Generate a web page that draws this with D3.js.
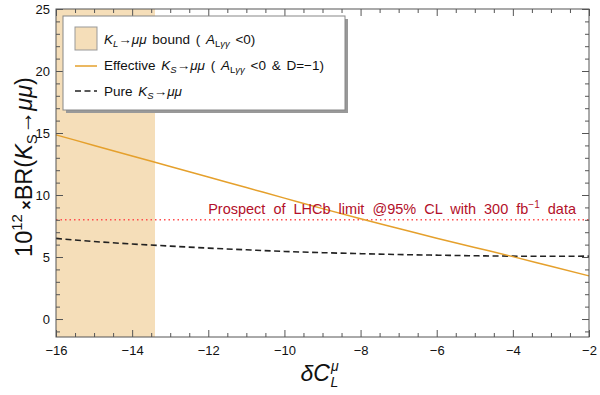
<!DOCTYPE html>
<meta charset="utf-8">
<html>
<head>
<script src="https://d3js.org/d3.v7.min.js"></script>
<style>
  body { margin: 0; background: #fff; }
  text { font-family: "Liberation Sans", Arial, sans-serif; }
</style>
</head>
<body>
<script>
// data
var deltaC = [-16, -15, -14, -13, -12, -11, -10, -9, -8, -7, -6, -5, -4, -3, -2];
var effectiveBR = [14.85, 14.0, 13.15, 12.3, 11.45, 10.6, 9.75, 8.9, 8.08, 7.3, 6.52, 5.77, 5.03, 4.25, 3.48];
var pureBR = [6.5, 6.25, 6.05, 5.88, 5.72, 5.58, 5.45, 5.35, 5.27, 5.2, 5.15, 5.1, 5.07, 5.06, 5.07];
var boundRange = [-16, -13.4];
var lhcbLimit = 8;
var xTicks = [-16, -14, -12, -10, -8, -6, -4, -2];
var yTicks = [0, 5, 10, 15, 20, 25];

var width = 600, height = 395;
var margin = {top: 9, right: 11, bottom: 58, left: 56};

var svg = d3.select("body").append("svg")
  .attr("width", width)
  .attr("height", height);

var x = d3.scaleLinear().domain([-16, -2]).range([margin.left, width - margin.right]);
var y = d3.scaleLinear().domain([-1.45, 25]).range([height - margin.bottom, margin.top]);

// shaded KL bound
svg.append("rect")
  .attr("x", x(boundRange[0]))
  .attr("y", y(25))
  .attr("width", x(boundRange[1]) - x(boundRange[0]))
  .attr("height", y(-1.45) - y(25))
  .attr("fill", "#f5deb9");

// LHCb prospect line
svg.append("line")
  .attr("x1", x(-16)).attr("x2", x(-2))
  .attr("y1", y(lhcbLimit)).attr("y2", y(lhcbLimit))
  .attr("stroke", "#ff4d4d")
  .attr("stroke-width", 1.6)
  .attr("stroke-dasharray", "1.5,3");

var line = d3.line()
  .x(function(d, i) { return x(deltaC[i]); })
  .y(function(d) { return y(d); })
  .curve(d3.curveMonotoneX);

svg.append("path")
  .datum(pureBR)
  .attr("d", line)
  .attr("fill", "none")
  .attr("stroke", "#222")
  .attr("stroke-width", 1.6)
  .attr("stroke-dasharray", "6,3.5");

svg.append("path")
  .datum(effectiveBR)
  .attr("d", line)
  .attr("fill", "none")
  .attr("stroke", "#e5a02c")
  .attr("stroke-width", 1.5);

svg.append("text")
  .attr("x", 576)
  .attr("y", y(lhcbLimit) - 6)
  .attr("text-anchor", "end")
  .attr("font-size", 14.5)
  .attr("fill", "#b3102a")
  .attr("word-spacing", 4)
  .html('Prospect of LHCb limit @95% CL with 300 fb<tspan dy="-6" font-size="10">\u22121</tspan><tspan dy="6"> data</tspan>');

// frame and ticks
var frameColor = "#555";
svg.append("rect")
  .attr("x", x(-16)).attr("y", y(25))
  .attr("width", x(-2) - x(-16))
  .attr("height", y(-1.45) - y(25))
  .attr("fill", "none")
  .attr("stroke", frameColor)
  .attr("stroke-width", 1);

var xAxisB = d3.axisBottom(x).tickValues(xTicks).tickSizeInner(-7).tickSizeOuter(0)
  .tickFormat(function(d) { return d < 0 ? "\u2212" + Math.abs(d) : d; }).tickPadding(9);
svg.append("g").attr("transform", "translate(0," + y(-1.45) + ")").call(xAxisB);
svg.append("g").attr("transform", "translate(0," + y(25) + ")")
  .call(d3.axisTop(x).tickValues(xTicks).tickSizeInner(-7).tickSizeOuter(0).tickFormat(""));
var yAxisL = d3.axisLeft(y).tickValues(yTicks).tickSizeInner(-7).tickSizeOuter(0).tickPadding(6);
svg.append("g").attr("transform", "translate(" + x(-16) + ",0)").call(yAxisL);
svg.append("g").attr("transform", "translate(" + x(-2) + ",0)")
  .call(d3.axisRight(y).tickValues(yTicks).tickSizeInner(-7).tickSizeOuter(0).tickFormat(""));

var xMinor = d3.range(-16, -1.9, 0.5).filter(function(v) { return xTicks.indexOf(v) < 0; });
var yMinor = d3.range(-1, 25, 1).filter(function(v) { return yTicks.indexOf(v) < 0; });
svg.append("g").attr("transform", "translate(0," + y(-1.45) + ")")
  .call(d3.axisBottom(x).tickValues(xMinor).tickSizeInner(-4).tickSizeOuter(0).tickFormat(""));
svg.append("g").attr("transform", "translate(0," + y(25) + ")")
  .call(d3.axisTop(x).tickValues(xMinor).tickSizeInner(-4).tickSizeOuter(0).tickFormat(""));
svg.append("g").attr("transform", "translate(" + x(-16) + ",0)")
  .call(d3.axisLeft(y).tickValues(yMinor).tickSizeInner(-4).tickSizeOuter(0).tickFormat(""));
svg.append("g").attr("transform", "translate(" + x(-2) + ",0)")
  .call(d3.axisRight(y).tickValues(yMinor).tickSizeInner(-4).tickSizeOuter(0).tickFormat(""));

svg.selectAll(".domain").remove();
svg.selectAll(".tick line").attr("stroke", frameColor);
svg.selectAll(".tick text")
  .attr("font-size", 13)
  .attr("fill", "#111")
  .style("font-family", "Liberation Sans, Arial, sans-serif");

// axis titles
svg.append("text")
  .attr("transform", "translate(32," + ((y(25) + y(-1.45)) / 2 - 6) + ") rotate(-90)")
  .attr("text-anchor", "middle")
  .attr("font-size", 23.5)
  .attr("fill", "#111")
  .html('10<tspan dy="-10" font-size="15">12</tspan><tspan dy="10" font-weight="bold" font-size="16"> \u00d7</tspan><tspan>BR(</tspan><tspan font-style="italic">K</tspan><tspan dy="5" font-size="15">S</tspan><tspan dy="-5">\u2192</tspan><tspan font-style="italic">\u03bc\u03bc</tspan>)');

svg.append("text")
  .attr("x", (x(-16) + x(-2)) / 2 - 22)
  .attr("y", 381)
  .attr("font-size", 23)
  .attr("fill", "#111")
  .html('<tspan font-style="italic">\u03b4C</tspan><tspan dy="-10" dx="1" font-size="14" font-style="italic">\u03bc</tspan><tspan dy="16" dx="-8" font-size="14" font-style="italic">L</tspan>');

// legend
var lg = svg.append("g");
lg.append("rect").attr("x", 66).attr("y", 19).attr("width", 282).attr("height", 94).attr("fill", "#999");
lg.append("rect").attr("x", 63).attr("y", 16).attr("width", 282).attr("height", 94)
  .attr("fill", "#fff").attr("stroke", "#888").attr("stroke-width", 1);
lg.append("rect").attr("x", 75).attr("y", 27).attr("width", 22).attr("height", 23)
  .attr("fill", "#f5deb9").attr("stroke", "#999");
lg.append("line").attr("x1", 75).attr("x2", 97).attr("y1", 66).attr("y2", 66)
  .attr("stroke", "#e5a02c").attr("stroke-width", 1.5);
lg.append("line").attr("x1", 75).attr("x2", 97).attr("y1", 91).attr("y2", 91)
  .attr("stroke", "#222").attr("stroke-width", 1.6).attr("stroke-dasharray", "6,3.5");

var legendFont = 13.5;
lg.append("text").attr("x", 104).attr("y", 44).attr("font-size", legendFont).attr("fill", "#111").attr("word-spacing", 2)
  .html('<tspan font-style="italic">K</tspan><tspan dy="3" font-size="9.5" font-style="italic">L</tspan><tspan dy="-3">\u2192</tspan><tspan font-style="italic">\u03bc\u03bc</tspan>  bound ( <tspan font-style="italic">A</tspan><tspan dy="3" font-size="9.5">L</tspan><tspan font-size="9.5" font-style="italic">\u03b3\u03b3</tspan><tspan dy="-3"> &lt;0)</tspan>');
lg.append("text").attr("x", 104).attr("y", 70).attr("font-size", legendFont).attr("fill", "#111").attr("word-spacing", 2)
  .html('Effective <tspan font-style="italic">K</tspan><tspan dy="3" font-size="9.5" font-style="italic">S</tspan><tspan dy="-3">\u2192</tspan><tspan font-style="italic">\u03bc\u03bc</tspan> ( <tspan font-style="italic">A</tspan><tspan dy="3" font-size="9.5">L</tspan><tspan font-size="9.5" font-style="italic">\u03b3\u03b3</tspan><tspan dy="-3"> &lt;0 &amp; D=\u22121)</tspan>');
lg.append("text").attr("x", 104).attr("y", 96).attr("font-size", legendFont).attr("fill", "#111").attr("word-spacing", 2)
  .html('Pure <tspan font-style="italic">K</tspan><tspan dy="3" font-size="9.5" font-style="italic">S</tspan><tspan dy="-3">\u2192</tspan><tspan font-style="italic">\u03bc\u03bc</tspan>');
</script>
</body>
</html>
